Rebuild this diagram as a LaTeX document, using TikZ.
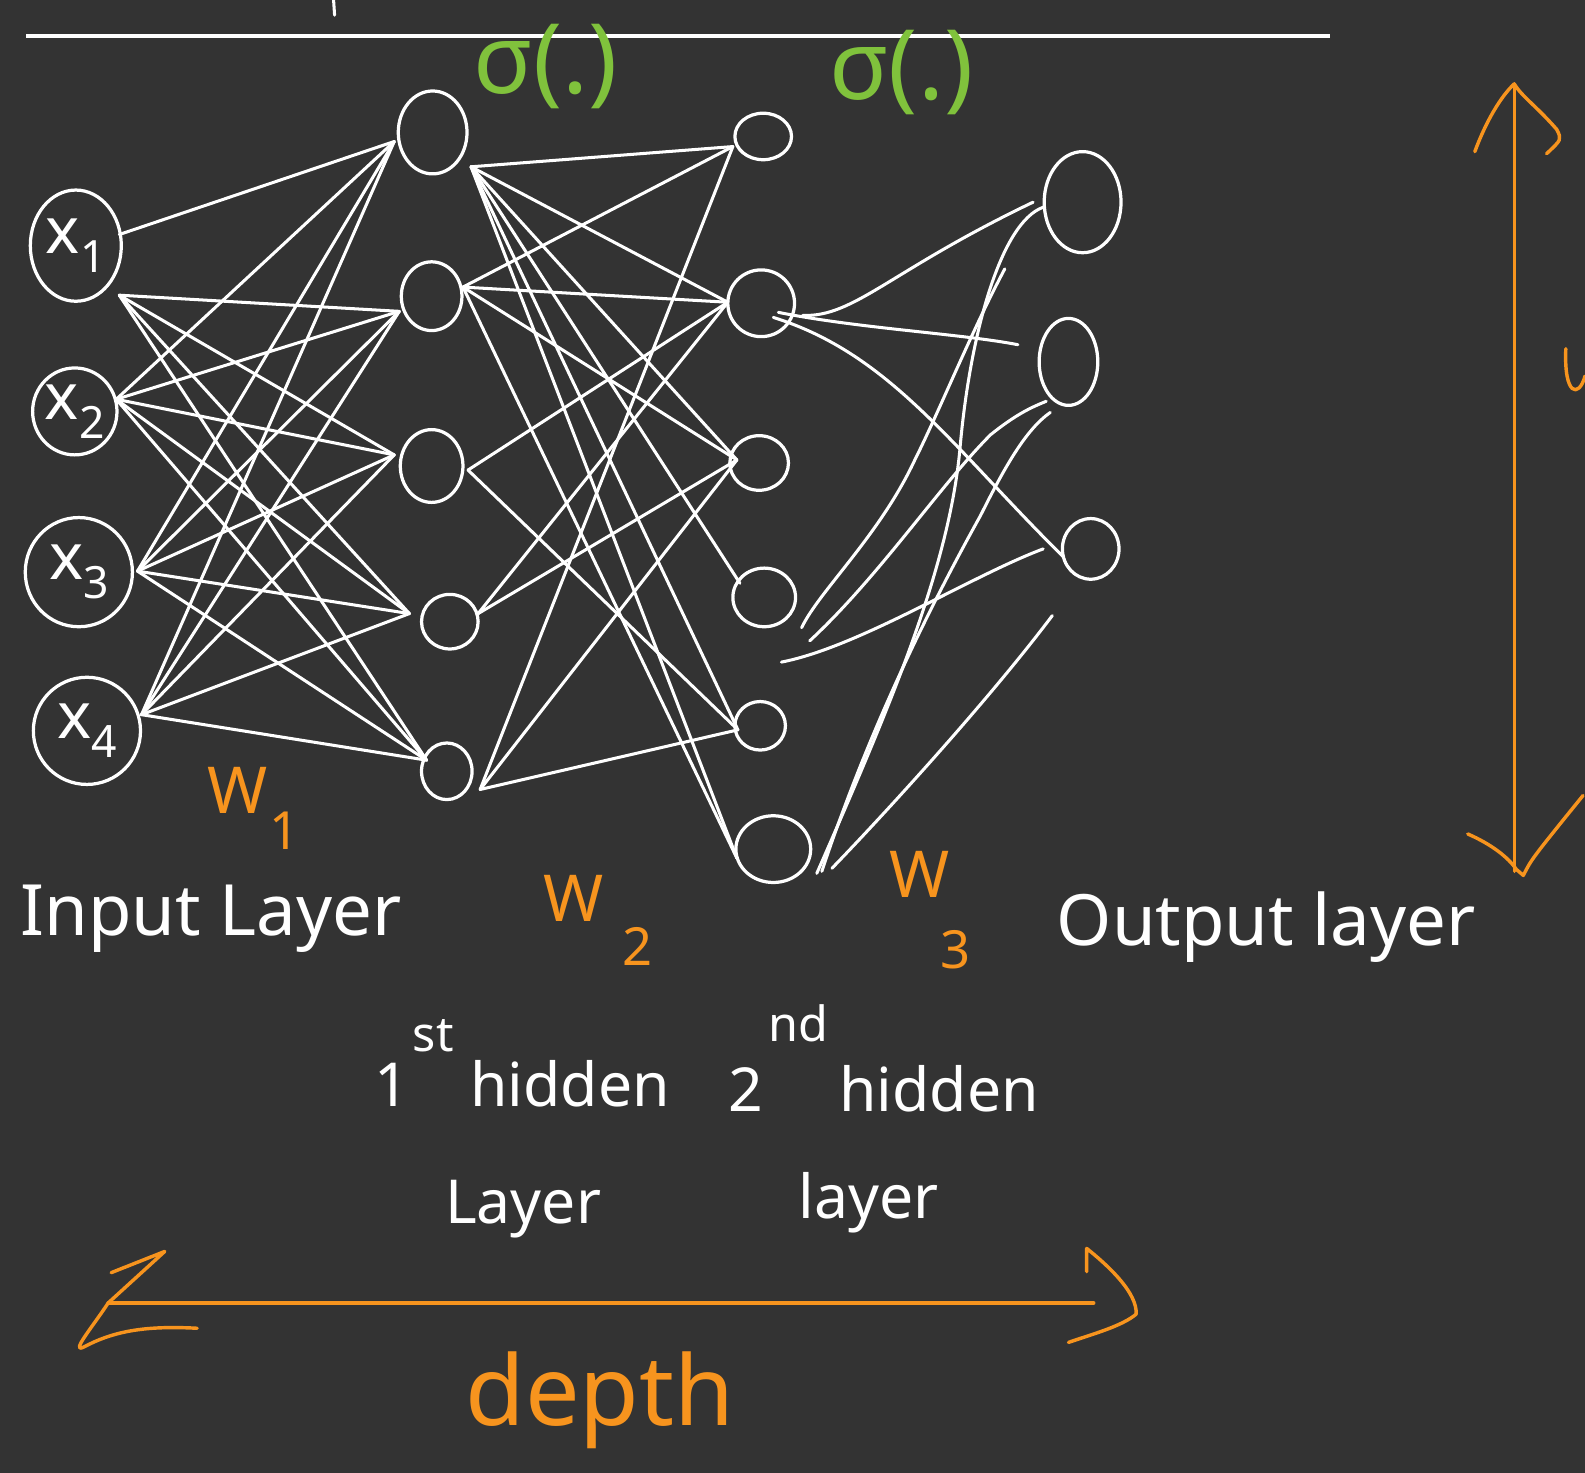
\documentclass[tikz,border=0pt]{standalone}
\usepackage{fontspec}
\setmainfont{Noto Sans}
\usetikzlibrary{shapes.geometric}
\definecolor{bgc}{RGB}{51,51,51}
\definecolor{orangec}{RGB}{247,148,30}
\definecolor{greenc}{RGB}{128,194,60}
\newcommand{\inlbl}[1]{x\raisebox{-0.3em}{\fontsize{22}{24}\selectfont #1}}
\begin{document}
\begin{tikzpicture}[x=0.5pt,y=-0.5pt,
  neuron/.style={draw=white, line width=1.6pt, ellipse, inner sep=0pt, text=white,
                 font=\fontsize{32}{36}\selectfont},
  nsz/.style 2 args={minimum width=#1pt, minimum height=#2pt},
  wire/.style={draw=white, line width=1.5pt, line cap=round},
  owire/.style={draw=orangec, line width=1.7pt, line cap=round, line join=round},
  lbl/.style={text=white, inner sep=0pt, anchor=base west, font=\fontsize{35}{40}\selectfont},
  hlbl/.style={text=white, inner sep=0pt, anchor=base west, font=\fontsize{30}{34}\selectfont},
  suplbl/.style={text=white, inner sep=0pt, anchor=base west, font=\fontsize{24}{28}\selectfont},
  wlbl/.style={text=orangec, inner sep=0pt, anchor=base west, font=\fontsize{32}{36}\selectfont},
  wsub/.style={text=orangec, inner sep=0pt, anchor=base west, font=\fontsize{26}{30}\selectfont},
  sig/.style={text=greenc, inner sep=0pt, anchor=base west, font=\fontsize{48}{54}\selectfont},
  dlbl/.style={text=orangec, inner sep=0pt, anchor=base west, font=\fontsize{48}{54}\selectfont},
]
\fill[bgc] (0,0) rectangle (1568,1457);
\useasboundingbox (0,0) rectangle (1568,1457);

% top rule and cut-off stroke
\coordinate (ruleL) at (26,36);
\coordinate (ruleR) at (1316,36);
\draw[white, line width=2pt] (ruleL) -- (ruleR);
\coordinate (topA) at (330,0);
\coordinate (topB) at (331,15);
\draw[wire] (topA) -- (topB);

% activation labels
\node[sig] (sigA) at (468,92) {σ(.)};
\node[sig] (sigB) at (820,98) {σ(.)};

% input layer
\node[neuron, nsz={45}{55}] (x1) at (75,243) {\inlbl{1}};
\node[neuron, nsz={41}{43}] (x2) at (74,407) {\inlbl{2}};
\node[neuron, nsz={53}{54}] (x3) at (78,566) {\inlbl{3}};
\node[neuron, nsz={53}{53}] (x4) at (86,723) {\inlbl{4}};

% hidden layer 1
\node[neuron, nsz={34}{41}] (h1) at (428,131) {};
\node[neuron, nsz={30}{34}] (h2) at (427,293) {};
\node[neuron, nsz={31}{36}] (h3) at (427,461) {};
\node[neuron, nsz={28}{27}] (h4) at (445,615) {};
\node[neuron, nsz={25}{28}] (h5) at (442,763) {};

% hidden layer 2
\node[neuron, nsz={28}{23}] (g1) at (755,135) {};
\node[neuron, nsz={33}{33}] (g2) at (753,300) {};
\node[neuron, nsz={29}{27}] (g3) at (751,458) {};
\node[neuron, nsz={31}{29}] (g4) at (756,591) {};
\node[neuron, nsz={25}{24}] (g5) at (752,718) {};
\node[neuron, nsz={37}{33}] (g6) at (765,840) {};

% output layer
\node[neuron, nsz={38}{50}] (o1) at (1071,200) {};
\node[neuron, nsz={29}{43}] (o2) at (1057,358) {};
\node[neuron, nsz={28}{30}] (o3) at (1079,543) {};

% connector end points
\coordinate (x1a) at (118,232);
\coordinate (x1b) at (118,292);
\coordinate (x2o) at (115,395);
\coordinate (x3o) at (136,565);
\coordinate (x4o) at (140,707);
\coordinate (h1i) at (390,140);
\coordinate (h2i) at (395,308);
\coordinate (h3i) at (390,450);
\coordinate (h4i) at (405,607);
\coordinate (h5i) at (422,752);
\coordinate (h1o) at (466,165);
\coordinate (h2o) at (458,284);
\coordinate (h3o) at (463,465);
\coordinate (h4o) at (473,607);
\coordinate (h5o) at (475,781);
\coordinate (g1i) at (725,145);
\coordinate (g2i) at (720,299);
\coordinate (g3i) at (729,455);
\coordinate (g4i) at (732,577);
\coordinate (g5i) at (730,722);
\coordinate (g6i) at (729,849);

% W1 connections
\draw[wire] (x1a) -- (h1i);
\foreach \t in {h2i,h3i,h4i,h5i} \draw[wire] (x1b) -- (\t);
\foreach \s in {x2o,x3o,x4o}
  \foreach \t in {h1i,h2i,h3i,h4i,h5i}
    \draw[wire] (\s) -- (\t);

% W2 connections
\foreach \t in {g1i,g2i,g3i,g4i,g5i,g6i} \draw[wire] (h1o) -- (\t);
\foreach \t in {g1i,g2i,g3i,g6i} \draw[wire] (h2o) -- (\t);
\foreach \t in {g2i,g5i} \draw[wire] (h3o) -- (\t);
\foreach \t in {g2i,g3i} \draw[wire] (h4o) -- (\t);
\foreach \t in {g1i,g3i,g5i} \draw[wire] (h5o) -- (\t);

% W3 connections (hand drawn curves)
\coordinate (c1s) at (794,312);  \coordinate (c1e) at (1022,200);
\coordinate (c2s) at (770,309);  \coordinate (c2e) at (1007,341);
\coordinate (c3s) at (765,314);  \coordinate (c3e) at (1052,551);
\coordinate (c4s) at (793,621);  \coordinate (c4e) at (994,266);
\coordinate (c5s) at (801,634);  \coordinate (c5e) at (1035,397);
\coordinate (c6s) at (773,655);  \coordinate (c6e) at (1032,543);
\coordinate (c7s) at (808,864);  \coordinate (c7e) at (1032,205);
\coordinate (c8s) at (813,862);  \coordinate (c8e) at (1039,408);
\coordinate (c9s) at (823,859);  \coordinate (c9e) at (1041,609);
\draw[wire] (c1s) .. controls (845,314) and (880,268) .. (c1e);
\draw[wire] (c2s) .. controls (850,325) and (950,330) .. (c2e);
\draw[wire] (c3s) .. controls (880,350) and (940,440) .. (c3e);
\draw[wire] (c4s) .. controls (810,585) and (870,530) .. (905,455) .. controls (930,405) and (960,330) .. (c4e);
\draw[wire] (c5s) .. controls (870,570) and (930,480) .. (980,430) .. controls (1005,410) and (1020,403) .. (c5e);
\draw[wire] (c6s) .. controls (850,640) and (960,570) .. (c6e);
\draw[wire] (c7s) .. controls (880,700) and (940,560) .. (950,440) .. controls (960,330) and (990,220) .. (c7e);
\draw[wire] (c8s) .. controls (860,720) and (920,600) .. (970,510) .. controls (995,460) and (1015,425) .. (c8e);
\draw[wire] (c9s) .. controls (880,800) and (980,690) .. (c9e);

% weight labels
\node[wlbl] (W1) at (205,805) {W};
\node[wsub] (W1s) at (266,840) {1};
\node[wlbl] (W2) at (537,912) {W};
\node[wsub] (W2s) at (615,955) {2};
\node[wlbl] (W3) at (880,888) {W};
\node[wsub] (W3s) at (930,958) {3};

% layer labels
\node[lbl] (inL) at (20,925) {Input Layer};
\node[lbl] (outL) at (1045,935) {Output layer};
\node[hlbl] (h1n) at (370,1095) {1};
\node[suplbl] (h1sup) at (408,1040) {st};
\node[hlbl] (h1w) at (465,1095) {hidden};
\node[hlbl] (h1l) at (440,1210) {Layer};
\node[hlbl] (h2n) at (720,1100) {2};
\node[suplbl] (h2sup) at (760,1030) {nd};
\node[hlbl] (h2w) at (830,1100) {hidden};
\node[hlbl] (h2l) at (790,1205) {layer};

% width arrow (vertical)
\coordinate (vT) at (1498,83);
\coordinate (vB) at (1498,862);
\draw[owire] (vT) -- (vB);
\coordinate (vTl) at (1459,150);
\coordinate (vTr) at (1530,152);
\draw[owire] (vTl) .. controls (1470,120) and (1485,95) .. (vT) .. controls (1505,95) and (1520,105) .. (1540,128) .. controls (1545,138) .. (vTr);
\coordinate (vBl) at (1452,825);
\coordinate (vBr) at (1566,787);
\draw[owire] (vBl) .. controls (1475,835) and (1492,848) .. (1500,860) -- (1507,866) .. controls (1515,850) .. (vBr);
\coordinate (uS) at (1549,345);
\coordinate (uE) at (1568,372);
\draw[owire] (uS) .. controls (1547,392) and (1562,394) .. (uE);

% depth arrow (horizontal)
\coordinate (hL) at (107,1289);
\coordinate (hR) at (1082,1289);
\draw[owire] (hL) -- (hR);
\coordinate (hLt) at (110,1259);
\coordinate (hLb) at (195,1314);
\draw[owire] (hLt) -- (163,1238) -- (hL) .. controls (92,1312) and (70,1338) .. (82,1333) .. controls (110,1318) and (140,1311) .. (hLb);
\coordinate (hRt) at (1075,1258);
\coordinate (hRb) at (1057,1328);
\draw[owire] (hRt) -- (1075,1235) .. controls (1100,1255) and (1125,1280) .. (1124,1300) .. controls (1110,1312) and (1080,1320) .. (hRb);

\node[dlbl] (depth) at (460,1410) {depth};
\end{tikzpicture}
\end{document}
